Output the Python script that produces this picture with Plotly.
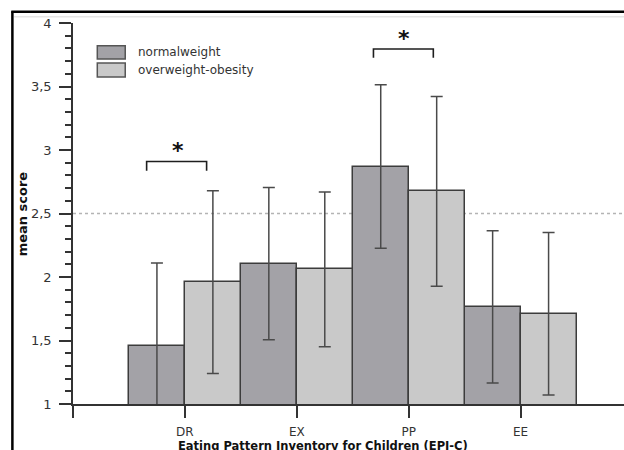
import plotly.graph_objects as go

categories = ["DR", "EX", "PP", "EE"]
series_names = ["normalweight", "overweight-obesity"]
normal_mean = [1.46, 2.105, 2.87, 1.765]
normal_sd = [0.65, 0.60, 0.643, 0.60]
over_mean = [1.96, 2.06, 2.674, 1.71]
over_sd = [0.72, 0.61, 0.747, 0.64]
reference_line = 2.5
# significance brackets
sig_x_left = [-0.342, 1.685]
sig_x_right = [0.194, 2.22]
sig_y_top = [2.91, 3.795]
sig_y_leg = [2.837, 3.727]
sig_star_x = [-0.063, 1.96]
sig_star_y = [2.994, 3.88]

FONT = "DejaVu Sans"
xpos = list(range(len(categories)))

fig = go.Figure()
fig.add_trace(go.Bar(
    x=xpos, y=normal_mean, name=series_names[0],
    marker=dict(color="#a3a2a7", line=dict(color="#3c3c3c", width=1.5)),
    error_y=dict(type="data", array=normal_sd, color="#4a4a4a", thickness=1.5, width=6),
))
fig.add_trace(go.Bar(
    x=xpos, y=over_mean, name=series_names[1],
    marker=dict(color="#c9c9c9", line=dict(color="#3c3c3c", width=1.5)),
    error_y=dict(type="data", array=over_sd, color="#4a4a4a", thickness=1.5, width=6),
))

shapes = []
shapes.append(dict(type="line", xref="paper", yref="y", x0=0, x1=1, y0=reference_line, y1=reference_line,
                   line=dict(color="#b4b4b4", width=1.5, dash="dot"), layer="below"))
for xl, xr, yt, yl in zip(sig_x_left, sig_x_right, sig_y_top, sig_y_leg):
    shapes.append(dict(type="path", xref="x", yref="y",
                       path=f"M {xl},{yl} L {xl},{yt} L {xr},{yt} L {xr},{yl}",
                       line=dict(color="#1e1e1e", width=1.6)))

# frame lines (screenshot border)
shapes.append(dict(type="line", xref="paper", yref="paper", x0=-0.112, x1=1.05, y0=1.0297, y1=1.0297,
                   line=dict(color="#000000", width=2.5)))
shapes.append(dict(type="line", xref="paper", yref="paper", x0=-0.110, x1=-0.110, y0=1.031, y1=-0.2,
                   line=dict(color="#000000", width=2.5)))
shapes.append(dict(type="line", xref="paper", yref="paper", x0=-0.107, x1=1.05, y0=1.0165, y1=1.0165,
                   line=dict(color="#e6e6e6", width=1.5)))

legend_colors = ["#a3a2a7", "#c9c9c9"]
box_y = [(0.9404, 0.9055), (0.895, 0.8583)]
annotations = []
for name, col, (yt, yb) in zip(series_names, legend_colors, box_y):
    shapes.append(dict(type="rect", xref="paper", yref="paper", x0=0.0441, x1=0.0948, y0=yb, y1=yt,
                       fillcolor=col, line=dict(color="#555555", width=1.5)))
    annotations.append(dict(xref="paper", yref="paper", x=0.1135, y=(yt + yb) / 2, text=name,
                            showarrow=False, xanchor="left", yanchor="middle",
                            font=dict(family=FONT, size=12, color="#333333")))

for sx, sy in zip(sig_star_x, sig_star_y):
    annotations.append(dict(xref="x", yref="y", x=sx, y=sy, text="<b>*</b>", showarrow=False,
                            xanchor="center", yanchor="middle",
                            font=dict(family=FONT, size=22, color="#111111")))

annotations.append(dict(xref="paper", yref="paper", x=-0.091, y=0.5, text="<b>mean score</b>",
                        textangle=-90, showarrow=False, xanchor="center", yanchor="middle",
                        font=dict(family=FONT, size=13, color="#111111")))
annotations.append(dict(xref="paper", yref="paper", x=0.454, y=-0.11,
                        text="<b>Eating Pattern Inventory for Children (EPI-C)</b>",
                        showarrow=False, xanchor="center", yanchor="middle",
                        font=dict(family=FONT, size=11.5, color="#111111")))

fig.update_layout(
    width=624, height=450,
    margin=dict(l=73, r=0, t=23, b=46),
    paper_bgcolor="white", plot_bgcolor="white",
    barmode="group", bargap=0, bargroupgap=0,
    showlegend=False,
    separators=", ",
    font=dict(family=FONT, size=12, color="#333333"),
    shapes=shapes, annotations=annotations,
)
fig.update_xaxes(
    range=[-1, 3.924], tickvals=[-1] + xpos, ticktext=[""] + categories,
    ticks="outside", ticklen=12, tickwidth=1.5, tickcolor="#333333",
    showline=True, linecolor="#333333", linewidth=1.5, showgrid=False, zeroline=False,
    tickfont=dict(family=FONT, size=12, color="#333333"), automargin=False,
    ticklabelstandoff=4,
)
fig.update_yaxes(
    range=[1, 4], dtick=0.5, tick0=1,
    ticks="outside", ticklen=12, tickwidth=1.5, tickcolor="#333333",
    minor=dict(dtick=0.1, ticks="outside", ticklen=6, tickwidth=1.5, tickcolor="#333333", showgrid=False),
    showline=True, linecolor="#333333", linewidth=1.5, showgrid=False, zeroline=False,
    tickfont=dict(family=FONT, size=13, color="#333333"), automargin=False,
    ticklabelstandoff=5,
)

fig.write_html("out.html", config={"displayModeBar": False},
               post_script="document.body.style.margin='0';document.body.style.padding='0';")
